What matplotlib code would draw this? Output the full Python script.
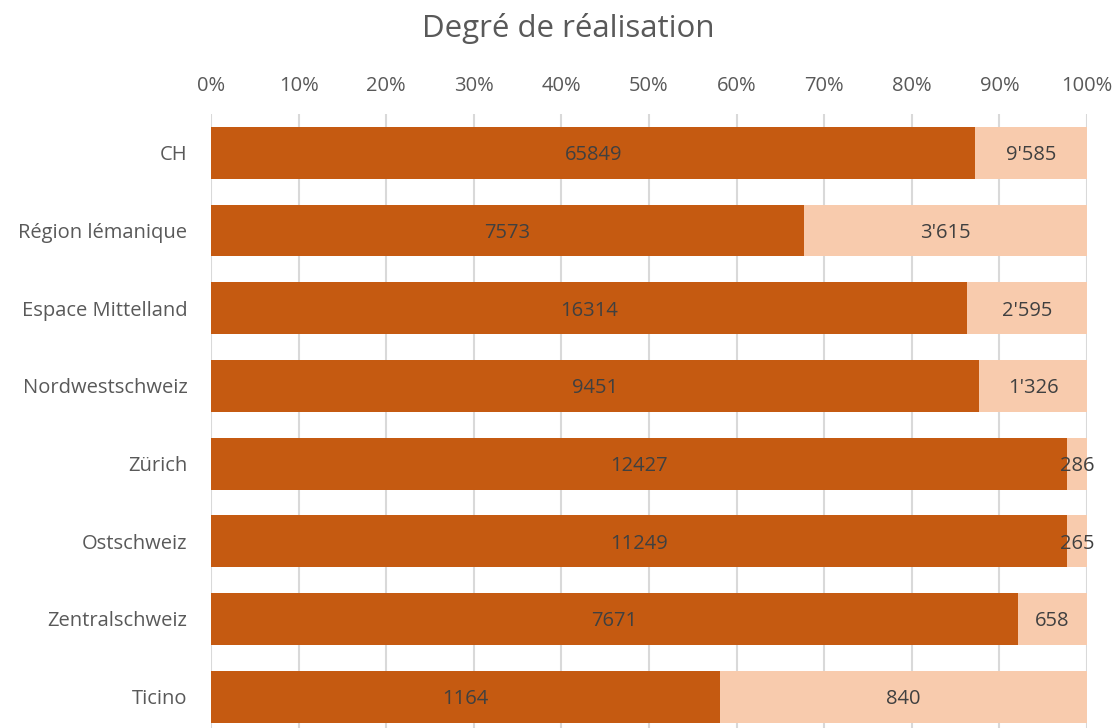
import matplotlib.pyplot as plt
import numpy as np

regions = ["CH", "Région lémanique", "Espace Mittelland", "Nordwestschweiz",
           "Zürich", "Ostschweiz", "Zentralschweiz", "Ticino"]
realises = [65849, 7573, 16314, 9451, 12427, 11249, 7671, 1164]
restants = [9585, 3615, 2595, 1326, 286, 265, 658, 840]
autres = [40, 0, 0, 0, 0, 0, 0, 0]
labels_restants = ["9'585", "3'615", "2'595", "1'326", "286", "265", "658", "840"]
ticks = [0, 10, 20, 30, 40, 50, 60, 70, 80, 90, 100]

plt.rcParams["font.family"] = ["Open Sans", "DejaVu Sans"]

r = np.array(realises, float)
s = np.array(restants, float)
o = np.array(autres, float)
tot = r + s + o
p1 = r / tot * 100
p2 = s / tot * 100
p3 = o / tot * 100

fig = plt.figure(figsize=(11.15, 7.28), dpi=100)
ax = fig.add_axes([211 / 1115, 1 - 735.5 / 728, 876 / 1115, 621.5 / 728])

y = np.arange(len(regions))
h = 0.667
ax.barh(y, p1, height=h, color="#C55A11", zorder=2)
ax.barh(y, p2, left=p1, height=h, color="#F8CBAD", zorder=2)
ax.barh(y, p3, left=p1 + p2, height=h, color="#4472C4", zorder=2)

for i in range(len(regions)):
    ax.text(p1[i] / 2, y[i] + 0.03, str(realises[i]), ha="center", va="center",
            fontsize=14.5, color="#404040", zorder=3)
    ax.text(p1[i] + p2[i] / 2, y[i] + 0.03, labels_restants[i], ha="center", va="center",
            fontsize=14.5, color="#404040", zorder=3)

ax.set_xlim(0, 100)
ax.set_ylim(len(regions) - 0.5, -0.5)
ax.set_yticks(y)
ax.set_yticklabels(regions, fontsize=14.5, color="#595959")
ax.set_xticks(ticks)
ax.set_xticklabels([f"{t}%" for t in ticks], fontsize=14.5, color="#595959")
ax.xaxis.tick_top()
ax.tick_params(axis="both", length=0)
ax.tick_params(axis="x", pad=13)
ax.tick_params(axis="y", pad=17)
ax.grid(axis="x", color="#D9D9D9", linewidth=1.5, zorder=0)
for sp in ax.spines.values():
    sp.set_visible(False)

fig.text(568 / 1115, 1 - 28 / 728, "Degré de réalisation", ha="center", va="center",
         fontsize=22.5, color="#595959")

fig.savefig("out.png", dpi=100)
